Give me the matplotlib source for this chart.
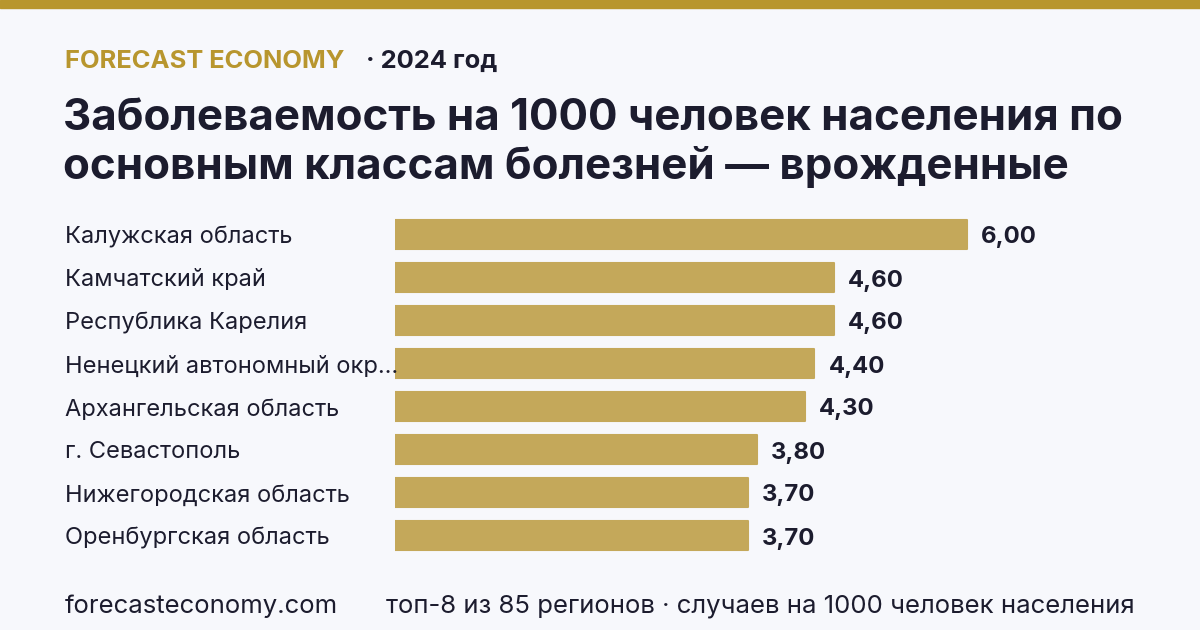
import matplotlib
matplotlib.use("Agg")
import matplotlib.pyplot as plt
import matplotlib.transforms as mtransforms

plt.rcParams['font.family'] = ['Inter', 'DejaVu Sans']

regions = [
    "Калужская область",
    "Камчатский край",
    "Республика Карелия",
    "Ненецкий автономный окр…",
    "Архангельская область",
    "г. Севастополь",
    "Нижегородская область",
    "Оренбургская область",
]
values = [6.00, 4.60, 4.60, 4.40, 4.30, 3.80, 3.70, 3.70]

BG = "#F7F8FC"
GOLD = "#B8962E"
BAR = "#C4A85A"
DARK = "#1C1C2E"

W, H = 1200, 630
fig = plt.figure(figsize=(12, 6.3), dpi=100, facecolor=BG)


def fx(px):
    return px / W


def fy(py):
    return 1 - py / H


# top strip
fig.patches.append(plt.Rectangle((0, fy(8)), 1, 8 / H, transform=fig.transFigure,
                                 color=GOLD, zorder=0))

fig.text(fx(65), fy(61), "FORECAST ECONOMY", color=GOLD, fontsize=18.4,
         fontweight="bold", va="center", ha="left")
fig.text(fx(366), fy(61), "· 2024 год", color=DARK, fontsize=18.4,
         fontweight="bold", va="center", ha="left")

fig.text(fx(63), fy(118), "Заболеваемость на 1000 человек населения по",
         color=DARK, fontsize=31.6, fontweight="bold", va="center", ha="left")
fig.text(fx(63), fy(167), "основным классам болезней — врожденные",
         color=DARK, fontsize=31.6, fontweight="bold", va="center", ha="left")

# bars
scale = 95.33  # px per unit
ax_left, ax_top = 395, 213
ax_w = 7 * scale
ax_h = 8 * 43
ax = fig.add_axes([fx(ax_left), fy(ax_top + ax_h), ax_w / W, ax_h / H])
ax.set_facecolor("none")
ypos = list(range(len(values)))
ax.barh(ypos, values, height=0.68, color=BAR, edgecolor=BAR, linewidth=1.5,
        joinstyle="round")
ax.set_xlim(0, 7)
ax.set_ylim(len(values) - 0.5, -0.5)
ax.axis("off")

for y, v in zip(ypos, values):
    ax.annotate(f"{v:.2f}".replace(".", ","), (v, y), xytext=(14, -3),
                textcoords="offset pixels", va="center", ha="left",
                fontsize=17.2, fontweight="bold", color=DARK)

trans = mtransforms.blended_transform_factory(fig.transFigure, ax.transData)
trans = trans + mtransforms.ScaledTranslation(0, -3 / 100, fig.dpi_scale_trans)
for y, name in zip(ypos, regions):
    ax.text(fx(65), y, name, transform=trans, va="center", ha="left",
            fontsize=17, color=DARK, clip_on=False)

fig.text(fx(65), fy(606), "forecasteconomy.com", color=DARK, fontsize=18.5,
         va="center", ha="left")
fig.text(fx(1135), fy(606),
         "топ-8 из 85 регионов · случаев на 1000 человек населения",
         color=DARK, fontsize=18.5, va="center", ha="right")

fig.savefig("out.png", dpi=100, facecolor=BG)
